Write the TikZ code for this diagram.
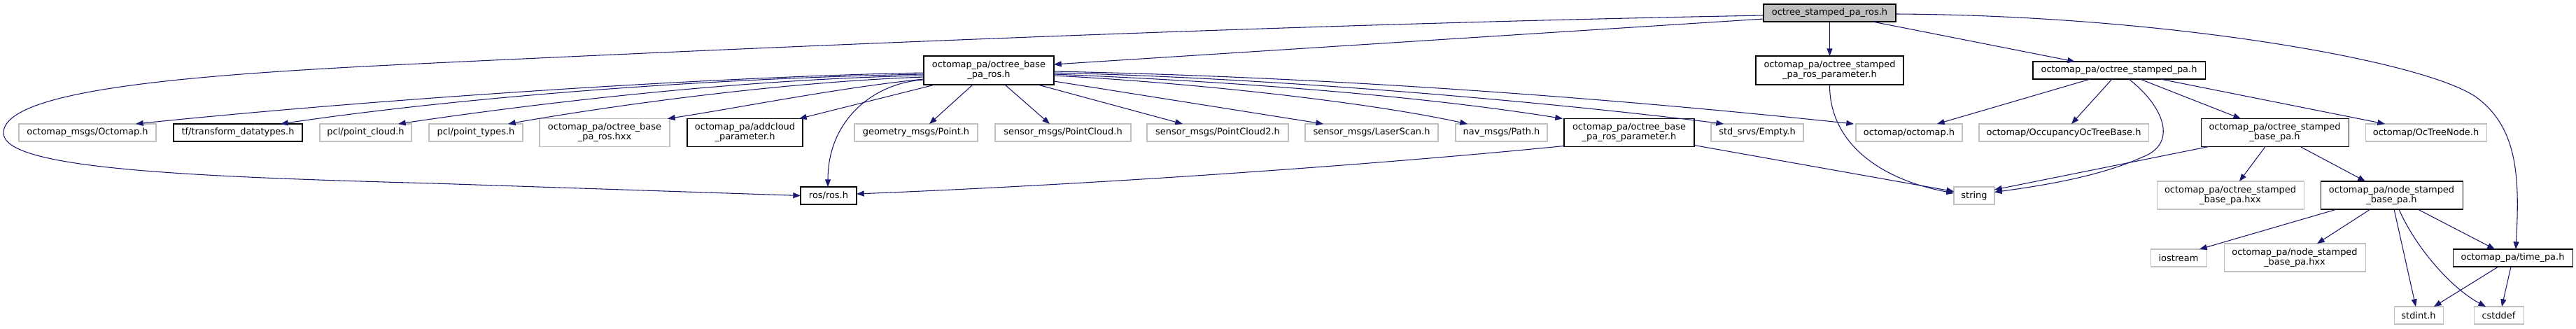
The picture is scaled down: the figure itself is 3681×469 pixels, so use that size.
\documentclass[tikz,border=0pt]{standalone}
\usepackage{fontspec}
\setmainfont{DejaVu Sans}
\usetikzlibrary{arrows.meta,calc}
\definecolor{gvblue}{HTML}{191970}
\definecolor{gvgray}{HTML}{BFBFBF}
\newcommand\gvfont{\fontsize{9.7}{10.5}\selectfont}
\begin{document}
\begin{tikzpicture}[x=0.75pt,y=-0.75pt,
  nd/.style 2 args={rectangle, inner sep=0pt, outer sep=0pt, minimum width={#1*0.75pt}, minimum height={#2*0.75pt}, align=center, font=\gvfont, line width=0.8pt},
  doc/.style={draw=black},
  undoc/.style={draw=gvgray},
  root/.style={draw=black, fill=gvgray},
  ed/.style={draw=gvblue, line width=0.8pt, -{Triangle[length=8pt,width=6pt]}}]
\fill[white] (0,0) rectangle (3681,469);
\useasboundingbox (0,0) rectangle (3681,469);

% row 0 / 1
\node[nd={189}{25}, root] (top) at (2614.5,18.5) {octree\_stamped\_pa\_ros.h};
\node[nd={186}{41}, doc] (base) at (1413,100.5) {octomap\_pa/octree\_base\\\_pa\_ros.h};
\node[nd={211}{41}, doc] (sparam) at (2614.5,100.5) {octomap\_pa/octree\_stamped\\\_pa\_ros\_parameter.h};
\node[nd={246}{25}, doc] (spa) at (3028,100.5) {octomap\_pa/octree\_stamped\_pa.h};

% row 2
\node[nd={196}{25}, undoc] (octomsg) at (125,189.5) {octomap\_msgs/Octomap.h};
\node[nd={184}{25}, doc] (tf) at (340,189.5) {tf/transform\_datatypes.h};
\node[nd={131}{25}, undoc] (pclc) at (522.5,189.5) {pcl/point\_cloud.h};
\node[nd={134}{25}, undoc] (pclt) at (680,189.5) {pcl/point\_types.h};
\node[nd={186}{40}, undoc] (bhxx) at (864,189.5) {octomap\_pa/octree\_base\\\_pa\_ros.hxx};
\node[nd={165}{40}, doc] (addc) at (1064.5,189.5) {octomap\_pa/addcloud\\\_parameter.h};
\node[nd={176}{25}, undoc] (geom) at (1309,189.5) {geometry\_msgs/Point.h};
\node[nd={194}{25}, undoc] (pc) at (1519,189.5) {sensor\_msgs/PointCloud.h};
\node[nd={202}{25}, undoc] (pc2) at (1740,189.5) {sensor\_msgs/PointCloud2.h};
\node[nd={190}{25}, undoc] (laser) at (1960,189.5) {sensor\_msgs/LaserScan.h};
\node[nd={131}{25}, undoc] (navpath) at (2145.5,189.5) {nav\_msgs/Path.h};
\node[nd={186}{40}, doc] (bparam) at (2328,189.5) {octomap\_pa/octree\_base\\\_pa\_ros\_parameter.h};
\node[nd={132}{25}, undoc] (empty) at (2511,189.5) {std\_srvs/Empty.h};
\node[nd={152}{25}, undoc] (octomap) at (2728,189.5) {octomap/octomap.h};
\node[nd={242}{25}, undoc] (occ) at (2949,189.5) {octomap/OccupancyOcTreeBase.h};
\node[nd={211}{40}, doc] (sbase) at (3250.5,189.5) {octomap\_pa/octree\_stamped\\\_base\_pa.h};
\node[nd={173}{25}, undoc] (octnode) at (3466.5,189.5) {octomap/OcTreeNode.h};

% row 3
\node[nd={80}{25}, doc] (ros) at (1184,279.5) {ros/ros.h};
\node[nd={58}{25}, undoc] (string) at (2821,279.5) {string};
\node[nd={210}{40}, undoc] (sbhxx) at (3187,279) {octomap\_pa/octree\_stamped\\\_base\_pa.hxx};
\node[nd={203}{40}, doc] (nbase) at (3417.5,279) {octomap\_pa/node\_stamped\\\_base\_pa.h};

% row 4
\node[nd={80}{25}, undoc] (iostream) at (3113,368.5) {iostream};
\node[nd={202}{40}, undoc] (nbhxx) at (3279,368) {octomap\_pa/node\_stamped\\\_base\_pa.hxx};
\node[nd={171}{25}, doc] (time) at (3590.5,368.5) {octomap\_pa/time\_pa.h};

% row 5
\node[nd={70}{25}, undoc] (stdint) at (3456,450.5) {stdint.h};
\node[nd={71}{25}, undoc] (cstddef) at (3570.5,450.5) {cstddef};

% edges from top
\draw[ed] ($(top.west)+(0,8.5)$) -- ($(base.east)+(0,-8.5)$);
\draw[ed] ($(top.west)+(0,3.5)$) .. controls (1800,35) and (1000,72) .. (620,90)
  .. controls (300,105) and (5,125) .. (5,190)
  .. controls (5,240) and (250,252) .. (620,262) -- (ros.west);
\draw[ed] (top.south) -- (sparam.north);
\draw[ed] ($(top.south)+(61.5,0)$) -- ($(spa.north west)+(60,0)$);
\draw[ed] ($(top.east)+(0,1.5)$) .. controls (3100,22) and (3470,88) .. (3540,140)
  .. controls (3600,185) and (3600,260) .. ($(time.north)+(4.5,0)$);

% edges from base
\draw[ed] ($(base.west)+(0,3.5)$) .. controls (1000,110) and (500,145) .. ($(octomsg.north east)+(-29,0)$);
\draw[ed] ($(base.west)+(0,5.5)$) .. controls (1000,112) and (650,140) .. ($(tf.north east)+(-31,0)$);
\draw[ed] ($(base.west)+(0,7.5)$) .. controls (1050,113) and (750,150) .. ($(pclc.north east)+(-19,0)$);
\draw[ed] ($(base.west)+(0,9.5)$) .. controls (1100,118) and (850,155) .. ($(pclt.north east)+(-21,0)$);
\draw[ed] ($(base.west)+(0,12.5)$) .. controls (1200,125) and (1050,155) .. ($(bhxx.north east)+(-3,0)$);
\draw[ed] ($(base.south west)+(16,0)$) -- ($(addc.north east)+(-5,0)$);
\draw[ed] ($(base.west)+(0,13.5)$) .. controls (1250,118) and (1183,170) .. ($(ros.north)+(-1,0)$);
\draw[ed] ($(base.south)+(-23,0)$) -- ($(geom.north)+(19,0)$);
\draw[ed] ($(base.south)+(23,0)$) -- ($(pc.north)+(-19,0)$);
\draw[ed] ($(base.south)+(70,0)$) -- ($(pc2.north)+(-50,0)$);
\draw[ed] ($(base.east)+(0,15.5)$) -- ($(laser.north)+(-69,0)$);
\draw[ed] ($(base.east)+(0,7.5)$) .. controls (1700,118) and (1950,145) .. ($(navpath.north)+(-48.5,0)$);
\draw[ed] ($(base.east)+(0,5.5)$) .. controls (1800,118) and (2050,140) .. ($(bparam.north west)+(-2,0)$);
\draw[ed] ($(base.east)+(0,3.5)$) .. controls (1850,112) and (2250,150) .. ($(empty.north)+(-48,0)$);
\draw[ed] ($(base.east)+(0,1.5)$) .. controls (1900,110) and (2300,140) .. ($(octomap.north west)+(-3,0)$);

% edges from bparam / sparam
\draw[ed] ($(bparam.south west)+(0,-1)$) .. controls (2000,232) and (1600,262) .. ($(ros.east)+(0,-2.5)$);
\draw[ed] ($(bparam.south east)+(0,-2)$) -- ($(string.west)+(0,-6)$);
\draw[ed] (sparam.south) .. controls (2614,200) and (2680,255) .. ($(string.west)+(0,-3.5)$);

% edges from spa
\draw[ed] ($(spa.south west)+(82,0)$) -- ($(octomap.north)+(40,0)$);
\draw[ed] ($(spa.south west)+(113,0)$) -- ($(occ.north)+(11,0)$);
\draw[ed] ($(spa.south west)+(137,0)$) .. controls (3090,150) and (3115,205) .. (3060,225)
  .. controls (3000,252) and (2920,265) .. ($(string.east)+(0,-5)$);
\draw[ed] ($(spa.south west)+(153,0)$) -- ($(sbase.north)+(-48.5,0)$);
\draw[ed] ($(spa.south west)+(182,0)$) -- ($(octnode.north)+(-58.5,0)$);

% edges from sbase
\draw[ed] ($(sbase.south west)+(11,0)$) -- ($(string.east)+(0,-8.5)$);
\draw[ed] ($(sbase.south)+(-13.5,0)$) -- ($(sbhxx.north)+(13,0)$);
\draw[ed] ($(sbase.south)+(36.5,0)$) -- ($(nbase.north)+(-37.5,0)$);

% edges from nbase
\draw[ed] ($(nbase.south west)+(23,0)$) -- ($(iostream.north)+(30,0)$);
\draw[ed] ($(nbase.south west)+(71,0)$) -- ($(nbhxx.north)+(32,0)$);
\draw[ed] ($(nbase.south west)+(105,0)$) -- ($(stdint.north)+(-4,0)$);
\draw[ed] ($(nbase.south west)+(112,0)$) .. controls (3450,350) and (3500,410) .. ($(cstddef.north)+(-18.5,0)$);
\draw[ed] ($(nbase.south west)+(139,0)$) -- ($(time.north)+(-25.5,0)$);

% edges from time
\draw[ed] ($(time.south west)+(65,0)$) -- ($(stdint.north)+(22,0)$);
\draw[ed] ($(time.south west)+(83,0)$) -- ($(cstddef.north)+(4.5,0)$);
\end{tikzpicture}
\end{document}
